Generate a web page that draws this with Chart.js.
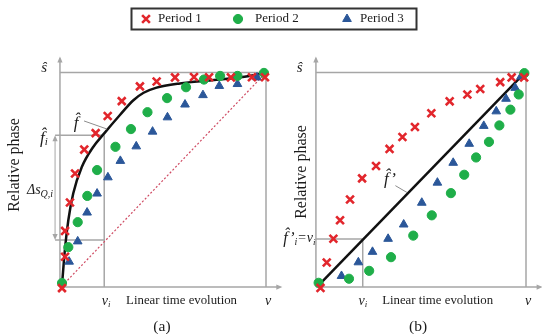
<!DOCTYPE html>
<html>
<head>
<meta charset="utf-8">
<script src="https://cdn.jsdelivr.net/npm/chart.js@4.4.1/dist/chart.umd.min.js"></script>
<style>
  html, body { margin: 0; padding: 0; background: #fff; }
  #wrap { width: 542px; height: 334px; }
</style>
</head>
<body>
<div id="wrap"><canvas id="chart" width="542" height="334"></canvas></div>
<script>
// series names (legend)
const seriesNames = ['Period 1', 'Period 2', 'Period 3'];

// panel (a): x = linear time (0..v), y = relative phase (0..s)
const aPeriod1 = [[0, -0.01], [0.015, 0.137], [0.015, 0.258], [0.039, 0.391], [0.064, 0.527], [0.109, 0.639],
  [0.165, 0.716], [0.224, 0.796], [0.293, 0.866], [0.382, 0.935], [0.464, 0.958], [0.554, 0.977],
  [0.647, 0.979], [0.721, 0.978], [0.828, 0.977], [0.931, 0.978], [0.995, 0.978]];
const aPeriod2 = [[0, 0.014], [0.031, 0.182], [0.077, 0.299], [0.124, 0.422], [0.172, 0.543], [0.262, 0.652],
  [0.338, 0.735], [0.419, 0.814], [0.515, 0.88], [0.608, 0.931], [0.696, 0.967], [0.775, 0.984],
  [0.86, 0.984], [0.99, 0.998]];
const aPeriod3 = [[0.035, 0.114], [0.077, 0.209], [0.123, 0.344], [0.172, 0.433], [0.225, 0.509], [0.286, 0.586],
  [0.364, 0.654], [0.444, 0.723], [0.517, 0.79], [0.603, 0.85], [0.691, 0.894], [0.771, 0.937],
  [0.86, 0.946], [0.956, 0.977]];
const aFHat = [[0, 0.005], [0.015, 0.178], [0.031, 0.308], [0.055, 0.433], [0.097, 0.557], [0.152, 0.65],
  [0.207, 0.715], [0.284, 0.801], [0.35, 0.87], [0.4, 0.905], [0.46, 0.928], [0.578, 0.949],
  [0.725, 0.963], [0.858, 0.975], [0.99, 0.995]];
const aLinear = [[0, 0], [1, 1]];
const aVi = 0.207, aFi = 0.706, aFlow = 0.215;

// panel (b)
const bPeriod1 = [[0.012, -0.009], [0.042, 0.11], [0.074, 0.221], [0.106, 0.308], [0.154, 0.405], [0.212, 0.504],
  [0.279, 0.562], [0.344, 0.642], [0.406, 0.698], [0.466, 0.745], [0.545, 0.809], [0.633, 0.865],
  [0.718, 0.897], [0.78, 0.923], [0.876, 0.955], [0.931, 0.977], [0.991, 0.977]];
const bPeriod2 = [[0.003, 0.015], [0.149, 0.034], [0.246, 0.071], [0.351, 0.135], [0.458, 0.236], [0.547, 0.331],
  [0.639, 0.435], [0.703, 0.521], [0.76, 0.602], [0.822, 0.675], [0.872, 0.752], [0.925, 0.826],
  [0.965, 0.897], [0.992, 0.997]];
const bPeriod3 = [[0.113, 0.047], [0.194, 0.111], [0.262, 0.16], [0.337, 0.221], [0.412, 0.288], [0.499, 0.39],
  [0.574, 0.484], [0.65, 0.577], [0.727, 0.666], [0.797, 0.75], [0.857, 0.818], [0.904, 0.877],
  [0.948, 0.928], [0.976, 0.981]];
const bFHatPrime = [[0.005, 0.005], [0.99, 0.995]];
const bVi = 0.215, bFi = 0.22;

const RED = '#e2262c', GREEN = '#1fae49', BLUE = '#2b5799', GRID = '#a6a6a6', INK = '#1c1c1c';
const SERIF = '"Liberation Serif", "DejaVu Serif", serif';

const pts = arr => arr.map(p => ({ x: p[0], y: p[1] }));

function markerSet(label, data, xAxisID, style, color, radius) {
  return {
    label, data: pts(data), xAxisID, yAxisID: 'y',
    pointStyle: style, pointRadius: radius, pointHoverRadius: radius,
    backgroundColor: color, borderColor: color,
    borderWidth: style === 'crossRot' ? 2.6 : 1,
    showLine: false, clip: false
  };
}

function lineSet(data, xAxisID, color, width, dash) {
  return {
    label: '', data: pts(data), xAxisID, yAxisID: 'y',
    showLine: true, pointRadius: 0, pointHoverRadius: 0,
    borderColor: color, borderWidth: width, borderDash: dash || [],
    cubicInterpolationMode: 'monotone', fill: false, clip: false
  };
}

// --- drawing helpers for the schematic parts ---
function P(chart, xid, x, y) {
  return [chart.scales[xid].getPixelForValue(x), chart.scales.y.getPixelForValue(y)];
}
function seg(ctx, a, b) {
  ctx.beginPath(); ctx.moveTo(a[0], a[1]); ctx.lineTo(b[0], b[1]); ctx.stroke();
}
function head(ctx, p, dir) {
  const L = 6, W = 2.6;
  ctx.beginPath();
  if (dir === 'up') { ctx.moveTo(p[0], p[1]); ctx.lineTo(p[0] - W, p[1] + L); ctx.lineTo(p[0] + W, p[1] + L); }
  if (dir === 'down') { ctx.moveTo(p[0], p[1]); ctx.lineTo(p[0] - W, p[1] - L); ctx.lineTo(p[0] + W, p[1] - L); }
  if (dir === 'right') { ctx.moveTo(p[0], p[1]); ctx.lineTo(p[0] - L, p[1] - W); ctx.lineTo(p[0] - L, p[1] + W); }
  ctx.closePath(); ctx.fill();
}
// parts: [{t, size, italic, dy}]
function mathText(ctx, parts, x, y, align) {
  const fontOf = p => (p.italic ? 'italic ' : '') + p.size + 'px ' + SERIF;
  let total = 0;
  parts.forEach(p => { ctx.font = fontOf(p); total += ctx.measureText(p.t).width; });
  let cx = align === 'center' ? x - total / 2 : align === 'right' ? x - total : x;
  ctx.textAlign = 'left';
  ctx.textBaseline = 'middle';
  parts.forEach(p => {
    ctx.font = fontOf(p);
    ctx.fillText(p.t, cx, y + (p.dy || 0));
    cx += ctx.measureText(p.t).width;
  });
}

function drawFrame(chart, xid, vi, fi, low) {
  const ctx = chart.ctx;
  const ax = -0.01, base = -0.005;
  seg(ctx, P(chart, xid, ax, base), P(chart, xid, ax, 1.065));
  head(ctx, P(chart, xid, ax, 1.075), 'up');
  seg(ctx, P(chart, xid, ax, base), P(chart, xid, 1.07, base));
  head(ctx, P(chart, xid, 1.08, base), 'right');
  seg(ctx, P(chart, xid, ax, 1), P(chart, xid, 1, 1));
  seg(ctx, P(chart, xid, 1, base), P(chart, xid, 1, 1));
  seg(ctx, P(chart, xid, vi, base), P(chart, xid, vi, fi));
  if (low !== null) {
    const dx = -0.034;
    seg(ctx, P(chart, xid, dx, fi), P(chart, xid, vi, fi));
    seg(ctx, P(chart, xid, dx, low), P(chart, xid, vi, low));
    ctx.lineWidth = 1;
    const top = P(chart, xid, dx, fi), bot = P(chart, xid, dx, low);
    seg(ctx, [top[0], top[1] + 4], [bot[0], bot[1] - 4]);
    head(ctx, top, 'up');
    head(ctx, bot, 'down');
    ctx.lineWidth = 1.5;
  } else {
    seg(ctx, P(chart, xid, ax, fi), P(chart, xid, vi, fi));
  }
}

function drawPanelText(chart, xid, tag) {
  const ctx = chart.ctx;
  ctx.fillStyle = INK;
  let p = P(chart, xid, -0.088, 1.021);
  mathText(ctx, [{ t: '\u015D', size: 15, italic: true }], p[0], p[1], 'center');

  p = P(chart, xid, 0.216, -0.07);
  mathText(ctx, [{ t: 'v', size: 14, italic: true }, { t: 'i', size: 9, italic: true, dy: 4 }], p[0], p[1], 'center');
  p = P(chart, xid, tag === 'a' ? 0.586 : 0.575, -0.07);
  mathText(ctx, [{ t: 'Linear time evolution', size: 12.8 }], p[0], p[1], 'center');
  p = P(chart, xid, 1.01, -0.07);
  mathText(ctx, [{ t: 'v', size: 14, italic: true }], p[0], p[1], 'center');
  p = P(chart, xid, tag === 'a' ? 0.49 : 0.481, -0.19);
  mathText(ctx, [{ t: '(' + tag + ')', size: 15.5 }], p[0], p[1], 'center');

  // rotated axis title
  p = P(chart, xid, tag === 'a' ? -0.23 : -0.077, tag === 'a' ? 0.567 : 0.534);
  ctx.save();
  ctx.translate(p[0], p[1]);
  ctx.rotate(-Math.PI / 2);
  ctx.font = '16px ' + SERIF;
  ctx.textAlign = 'center';
  ctx.textBaseline = 'middle';
  ctx.fillText('Relative phase', 0, 0);
  ctx.restore();

  ctx.strokeStyle = '#8c8c8c';
  ctx.lineWidth = 1;
  if (tag === 'a') {
    p = P(chart, xid, -0.108, 0.693);
    mathText(ctx, [{ t: 'f\u0302', size: 17, italic: true }, { t: 'i', size: 11, italic: true, dy: 4 }], p[0], p[1], 'left');
    p = P(chart, xid, -0.172, 0.45);
    mathText(ctx, [{ t: '\u0394s', size: 14, italic: true }, { t: 'Q,i', size: 10, italic: true, dy: 4 }], p[0], p[1], 'left');
    p = P(chart, xid, 0.069, 0.762);
    mathText(ctx, [{ t: 'f\u0302', size: 17, italic: true }], p[0], p[1], 'center');
    seg(ctx, P(chart, xid, 0.108, 0.773), P(chart, xid, 0.221, 0.735));
  } else {
    p = P(chart, xid, -0.012, 0.222);
    mathText(ctx, [{ t: 'f\u0302\u2019', size: 16, italic: true }, { t: 'i', size: 10, italic: true, dy: 4 },
      { t: '=v', size: 14, italic: true }, { t: 'i', size: 9, italic: true, dy: 4 }], p[0], p[1], 'right');
    p = P(chart, xid, 0.346, 0.5);
    mathText(ctx, [{ t: 'f\u0302\u2019', size: 17, italic: true }], p[0], p[1], 'center');
    seg(ctx, P(chart, xid, 0.372, 0.47), P(chart, xid, 0.428, 0.438));
  }
}

const schematic = {
  id: 'schematic',
  beforeDatasetsDraw(chart) {
    const ctx = chart.ctx;
    ctx.save();
    ctx.strokeStyle = GRID;
    ctx.fillStyle = GRID;
    ctx.lineWidth = 1.5;
    drawFrame(chart, 'x', aVi, aFi, aFlow);
    drawFrame(chart, 'x2', bVi, bFi, null);
    ctx.restore();
  },
  afterDatasetsDraw(chart) {
    const ctx = chart.ctx;
    ctx.save();
    drawPanelText(chart, 'x', 'a');
    drawPanelText(chart, 'x2', 'b');

    // boxed legend across the top
    ctx.strokeStyle = '#333';
    ctx.lineWidth = 2;
    ctx.strokeRect(131.5, 8.5, 285, 21);
    const items = chart.data.datasets.slice(0, 3);
    const markX = [146, 238, 347], textX = [158, 255, 360];
    items.forEach((ds, i) => {
      ctx.fillStyle = ds.backgroundColor;
      ctx.strokeStyle = ds.borderColor;
      ctx.lineWidth = ds.borderWidth;
      Chart.helpers.drawPoint(ctx, { pointStyle: ds.pointStyle, radius: ds.pointRadius, borderWidth: ds.borderWidth, rotation: 0 }, markX[i], 19);
      ctx.fillStyle = INK;
      mathText(ctx, [{ t: ds.label, size: 13 }], textX[i], 18.5, 'left');
    });
    ctx.restore();
  }
};

new Chart(document.getElementById('chart'), {
  type: 'scatter',
  data: {
    datasets: [
      markerSet(seriesNames[0], aPeriod1, 'x', 'crossRot', RED, 5.5),
      markerSet(seriesNames[1], aPeriod2, 'x', 'circle', GREEN, 4.6),
      markerSet(seriesNames[2], aPeriod3, 'x', 'triangle', BLUE, 5),
      markerSet(seriesNames[0], bPeriod1, 'x2', 'crossRot', RED, 5.5),
      markerSet(seriesNames[1], bPeriod2, 'x2', 'circle', GREEN, 4.6),
      markerSet(seriesNames[2], bPeriod3, 'x2', 'triangle', BLUE, 5),
      lineSet(aFHat, 'x', '#111', 2.5),
      lineSet(aLinear, 'x', '#cf4a62', 1.2, [2, 2]),
      lineSet(bFHatPrime, 'x2', '#111', 2.5)
    ]
  },
  options: {
    responsive: false,
    animation: false,
    layout: { padding: 0, autoPadding: false },
    scales: {
      // panel (a): 0 -> x 62px, 1 -> x 266px
      x: { type: 'linear', display: false, min: -62 / 204, max: 480 / 204 },
      // panel (b): 0 -> x 318px, 1 -> x 526px
      x2: { type: 'linear', display: false, min: -318 / 208, max: 224 / 208 },
      // shared vertical: 0 -> y 286px, 1 -> y 72.5px
      y: { type: 'linear', display: false, min: -48 / 213.5, max: 286 / 213.5 }
    },
    plugins: {
      legend: { display: false },
      tooltip: { enabled: false }
    }
  },
  plugins: [schematic]
});
</script>
</body>
</html>
